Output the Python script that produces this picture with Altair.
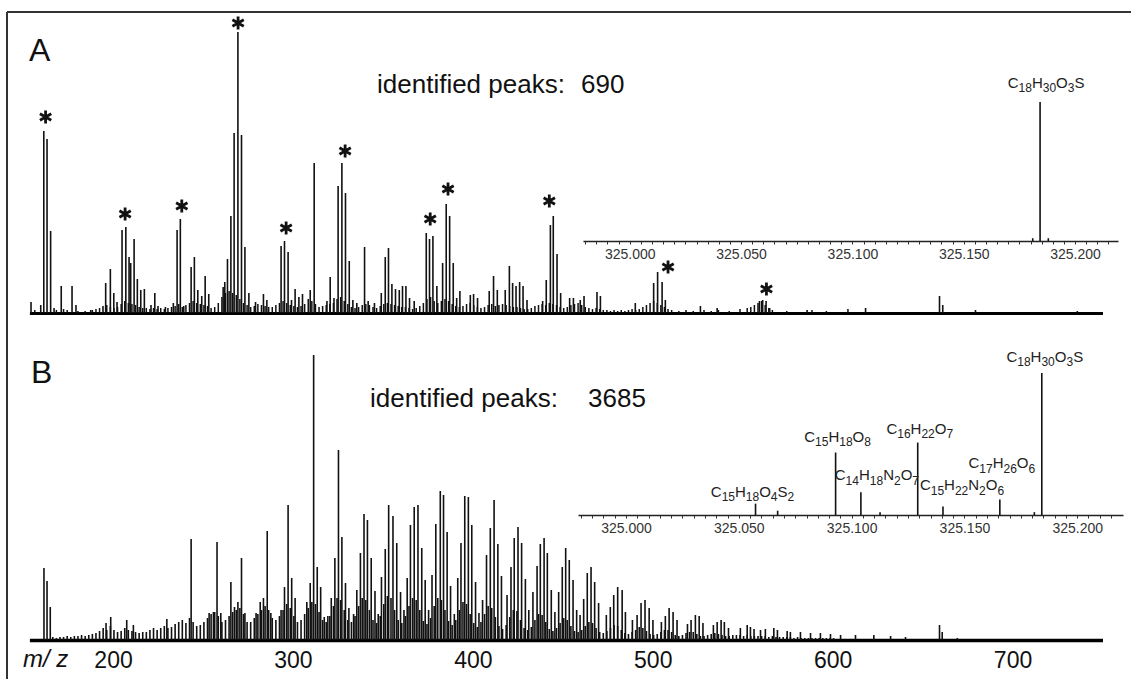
import re
import altair as alt
import pandas as pd

# ---------------- Panel A : main spectrum (m/z, relative intensity) ----------------
a_mz = [154.4, 159.8, 161.5, 163.3, 165.3, 167.2, 171.2, 177.2, 179.4, 187.6,
        194.4, 195.9, 198.5, 200.4, 202.2, 205.0, 207.1, 208.9, 209.8, 211.7,
        213.5, 215.4, 217.4, 221.1, 223.2, 225.0, 229.1, 233.5, 235.6, 237.4,
        239.3, 243.4, 245.2, 247.1, 249.3, 251.2, 253.2, 261.2, 262.1, 263.6,
        265.5, 267.3, 269.4, 271.4, 273.3, 275.5, 279.2, 283.6, 285.5, 293.4,
        295.3, 297.3, 299.2, 301.2, 303.3, 305.3, 309.6, 311.8, 318.9, 320.7,
        322.8, 325.1, 327.2, 329.2, 331.3, 333.3, 335.5, 339.8, 341.8, 345.3,
        349.1, 351.3, 353.1, 355.0, 357.0, 359.1, 360.9, 362.8, 364.8, 367.4,
        374.1, 375.9, 377.8, 380.0, 383.2, 385.2, 387.1, 389.1, 391.0, 392.8,
        398.6, 400.4, 402.6, 409.1, 411.5, 413.6, 418.0, 420.3, 422.1, 424.0,
        426.0, 427.9, 430.1, 438.8, 440.8, 443.1, 444.7, 446.8, 448.8, 453.8,
        455.9, 459.7, 461.8, 469.0, 470.9, 490.3, 500.5, 502.7, 505.2, 507.0,
        526.5, 535.8, 559.3, 561.1, 563.0, 565.0, 585.8, 618.3, 659.4, 661.2,
        679.4, 736.0]
a_int = [11, 8, 182, 174, 82, 5, 27, 27, 8, 3,
         7, 30, 44, 20, 11, 83, 86, 56, 50, 74,
         34, 23, 24, 8, 20, 7, 6, 10, 83, 94,
         7, 46, 56, 23, 17, 37, 19, 26, 31, 54,
         97, 180, 281, 178, 66, 20, 11, 19, 13, 67,
         72, 61, 13, 24, 16, 19, 23, 150, 12, 36,
         15, 127, 150, 120, 52, 13, 10, 66, 12, 10,
         20, 56, 65, 29, 24, 23, 27, 27, 15, 12,
         80, 74, 77, 27, 50, 109, 97, 50, 15, 22,
         18, 19, 15, 22, 37, 23, 23, 47, 30, 27,
         31, 27, 13, 12, 33, 88, 97, 59, 20, 15,
         15, 13, 17, 21, 17, 10, 30, 41, 31, 13,
         7, 5, 12, 13, 12, 5, 3, 5, 17, 8,
         3, 2]

a_minor_mz = [156.5, 168.5, 172.5, 174.5, 180.5, 184.5, 188.5, 190.5, 192.5, 196.5,
              198.5, 200.5, 202.5, 204.5, 206.5, 208.5, 210.5, 212.5, 214.5, 216.5,
              218.5, 220.5, 222.5, 224.5, 226.5, 228.5, 230.5, 232.5, 234.5, 236.5,
              238.5, 240.5, 242.5, 244.5, 246.5, 248.5, 250.5, 252.5, 254.5, 256.5,
              258.5, 260.5, 262.5, 264.5, 266.5, 268.5, 270.5, 272.5, 274.5, 276.5,
              278.5, 280.5, 282.5, 284.5, 286.5, 288.5, 290.5, 292.5, 294.5, 296.5,
              298.5, 300.5, 302.5, 304.5, 306.5, 308.5, 310.5, 312.5, 314.5, 316.5,
              318.5, 320.5, 322.5, 324.5, 326.5, 328.5, 330.5, 332.5, 334.5, 336.5,
              338.5, 340.5, 342.5, 344.5, 346.5, 348.5, 350.5, 352.5, 354.5, 356.5,
              358.5, 360.5, 362.5, 364.5, 366.5, 368.5, 370.5, 372.5, 374.5, 376.5,
              378.5, 380.5, 382.5, 384.5, 386.5, 388.5, 390.5, 392.5, 394.5, 396.5,
              398.5, 400.5, 402.5, 404.5, 406.5, 408.5, 410.5, 412.5, 414.5, 416.5,
              418.5, 420.5, 422.5, 424.5, 426.5, 428.5, 430.5, 432.5, 434.5, 436.5,
              438.5, 440.5, 442.5, 444.5, 446.5, 448.5, 450.5, 452.5, 454.5, 456.5,
              458.5, 460.5, 462.5, 464.5, 466.5, 468.5, 470.5, 472.5, 474.5, 476.5,
              478.5, 480.5, 482.5, 484.5, 486.5, 488.5, 490.5, 492.5, 494.5, 496.5,
              498.5, 500.5, 502.5, 504.5, 506.5, 508.5, 510.5, 514.5, 518.5, 522.5,
              528.5, 532.5, 536.5, 542.5, 548.5, 552.5, 554.5, 556.5, 558.5, 560.5,
              562.5, 564.5, 566.5, 574.5, 588.5, 596.5, 608.5]
a_minor_int = [3, 3, 4, 3, 2, 2, 3, 4, 5, 8,
               6, 5, 6, 9, 12, 10, 9, 8, 6, 5,
               5, 4, 5, 4, 5, 4, 5, 6, 7, 9,
               6, 8, 10, 12, 10, 9, 8, 7, 5, 6,
               10, 16, 20, 22, 20, 18, 14, 10, 8, 6,
               7, 9, 8, 7, 6, 6, 8, 10, 12, 10,
               8, 7, 6, 7, 9, 14, 12, 9, 6, 7,
               8, 9, 10, 14, 16, 12, 9, 6, 5, 6,
               8, 9, 8, 6, 5, 7, 9, 10, 9, 8,
               7, 6, 6, 5, 4, 5, 7, 10, 14, 16,
               12, 10, 12, 14, 12, 9, 7, 6, 7, 9,
               10, 8, 6, 5, 6, 8, 9, 7, 8, 9,
               8, 7, 6, 6, 5, 4, 4, 5, 7, 8,
               9, 8, 10, 9, 8, 6, 5, 6, 8, 9,
               10, 8, 6, 5, 4, 5, 4, 3, 3, 2,
               3, 2, 3, 2, 3, 4, 3, 4, 6, 8,
               10, 12, 10, 8, 6, 4, 3, 2, 3, 2,
               3, 2, 3, 2, 4, 5, 6, 8, 10, 12,
               8, 5, 3, 2, 3, 2, 4]

# asterisks marking series in panel A (position in m/z and intensity units)
star_mz = [162.5, 206.7, 238.2, 269.5, 296.2, 329.0, 376.3, 386.2, 442.5, 508.5, 563.2]
star_int = [196, 99, 107, 290, 85, 162, 94, 124, 112, 46, 24]

# ---------------- Panel B : main spectrum ----------------
b_mz = [161.6, 163.3, 165.1, 196.1, 198.7, 207.6, 211.3, 229.9, 243.4, 253.4,
        255.8, 257.8, 259.9, 265.5, 267.5, 269.4, 271.4, 273.3, 279.5, 281.8,
        283.6, 285.7, 287.7, 293.4, 295.3, 297.3, 299.3, 301.2, 307.7, 309.6,
        311.5, 313.5, 315.4, 317.4, 319.4, 321.3, 323.3, 325.3, 327.2, 329.2,
        331.1, 333.7, 335.5, 337.5, 339.5, 341.4, 343.5, 345.6, 347.4, 349.2,
        351.3, 353.2, 355.6, 357.7, 359.8, 361.7, 363.5, 365.3, 367.4, 369.5,
        371.6, 373.5, 375.4, 377.3, 379.4, 381.9, 383.7, 385.7, 387.6, 389.7,
        391.6, 393.4, 395.5, 397.5, 399.4, 401.5, 403.4, 405.4, 407.6, 409.7,
        411.8, 413.9, 415.9, 419.0, 421.2, 423.0, 425.1, 427.1, 429.2, 431.1,
        433.4, 435.7, 437.5, 439.6, 441.4, 443.6, 445.6, 447.7, 449.7, 451.6,
        453.6, 455.7, 457.7, 459.6, 461.6, 463.6, 465.7, 467.7, 469.9, 474.2,
        476.4, 478.3, 480.5, 483.0, 484.8, 488.7, 491.3, 493.5, 495.7, 498.0,
        500.1, 504.8, 507.0, 509.1, 511.3, 513.5, 519.3, 521.3, 523.7, 525.8,
        527.9, 533.7, 535.8, 538.0, 539.8, 542.1, 548.7, 552.5, 554.3, 556.3,
        559.9, 562.6, 567.3, 569.3, 574.7, 576.5, 582.1, 587.7, 593.2, 598.8,
        604.4, 612.7, 622.9, 632.2, 640.5, 659.4, 660.9, 669.3]
b_int = [72, 59, 33, 17, 23, 20, 15, 21, 101, 27,
         28, 98, 27, 58, 33, 38, 82, 27, 27, 38,
         42, 109, 27, 30, 53, 135, 62, 42, 38, 57,
         285, 73, 53, 23, 24, 42, 82, 190, 103, 57,
         32, 26, 50, 87, 126, 120, 82, 49, 26, 63,
         91, 135, 124, 97, 48, 30, 62, 115, 133, 135,
         92, 60, 30, 65, 116, 149, 145, 108, 54, 26,
         62, 97, 144, 143, 115, 58, 27, 40, 85, 112,
         140, 96, 64, 45, 73, 102, 113, 97, 61, 30,
         48, 74, 96, 102, 87, 50, 28, 48, 73, 92,
         80, 60, 30, 25, 41, 67, 73, 58, 37, 25,
         33, 45, 53, 50, 28, 20, 25, 37, 40, 32,
         20, 18, 24, 32, 28, 20, 16, 20, 25, 24,
         17, 15, 18, 20, 18, 12, 12, 15, 13, 11,
         10, 11, 12, 10, 9, 8, 8, 7, 7, 6,
         5, 5, 5, 4, 3, 15, 8, 2]

b_minor_mz = [166.5, 168.5, 170.5, 172.5, 174.5, 176.5, 178.5, 180.5, 182.5, 184.5,
              186.5, 188.5, 190.5, 192.5, 194.5, 196.5, 198.5, 200.5, 202.5, 204.5,
              206.5, 208.5, 210.5, 212.5, 214.5, 216.5, 218.5, 220.5, 222.5, 224.5,
              226.5, 228.5, 230.5, 232.5, 234.5, 236.5, 238.5, 240.5, 242.5, 244.5,
              246.5, 248.5, 250.5, 252.5, 254.5, 256.5, 258.5, 260.5, 262.5, 264.5,
              266.5, 268.5, 270.5, 272.5, 274.5, 276.5, 278.5, 280.5, 282.5, 284.5,
              286.5, 288.5, 290.5, 292.5, 294.5, 296.5, 298.5, 300.5, 302.5, 304.5,
              306.5, 308.5, 310.5, 312.5, 314.5, 316.5, 318.5, 320.5, 322.5, 324.5,
              326.5, 328.5, 330.5, 332.5, 334.5, 336.5, 338.5, 340.5, 342.5, 344.5,
              346.5, 348.5, 350.5, 352.5, 354.5, 356.5, 358.5, 360.5, 362.5, 364.5,
              366.5, 368.5, 370.5, 372.5, 374.5, 376.5, 378.5, 380.5, 382.5, 384.5,
              386.5, 388.5, 390.5, 392.5, 394.5, 396.5, 398.5, 400.5, 402.5, 404.5,
              406.5, 408.5, 410.5, 412.5, 414.5, 416.5, 418.5, 420.5, 422.5, 424.5,
              426.5, 428.5, 430.5, 432.5, 434.5, 436.5, 438.5, 440.5, 442.5, 444.5,
              446.5, 448.5, 450.5, 452.5, 454.5, 456.5, 458.5, 460.5, 462.5, 464.5,
              466.5, 468.5, 470.5, 472.5, 474.5, 476.5, 478.5, 480.5, 482.5, 484.5,
              486.5, 488.5, 490.5, 492.5, 494.5, 496.5, 498.5, 500.5, 502.5, 504.5,
              506.5, 508.5, 510.5, 512.5, 514.5, 516.5, 518.5, 520.5, 522.5, 524.5,
              526.5, 528.5, 530.5, 532.5, 534.5, 536.5, 538.5, 540.5, 542.5, 544.5,
              546.5, 548.5, 550.5, 552.5, 554.5, 556.5, 558.5, 560.5, 562.5, 564.5,
              566.5, 568.5, 570.5, 572.5, 574.5, 576.5, 578.5, 580.5, 582.5, 584.5,
              586.5, 588.5, 590.5, 592.5, 594.5, 596.5, 598.5, 600.5]
b_minor_int = [3, 2, 3, 3, 4, 3, 4, 4, 5, 4,
               5, 6, 7, 9, 12, 10, 14, 10, 8, 9,
               12, 10, 9, 8, 7, 8, 8, 10, 12, 10,
               12, 14, 12, 13, 16, 18, 20, 17, 22, 18,
               14, 15, 18, 22, 26, 28, 24, 18, 20, 24,
               28, 30, 32, 26, 18, 18, 22, 26, 30, 34,
               30, 22, 20, 24, 30, 36, 32, 24, 18, 20,
               26, 32, 38, 36, 28, 20, 18, 24, 34, 42,
               40, 30, 20, 18, 24, 34, 42, 40, 30, 20,
               17, 24, 36, 44, 42, 30, 20, 17, 24, 34,
               42, 40, 30, 19, 16, 22, 34, 42, 40, 30,
               19, 15, 20, 30, 38, 36, 26, 17, 13, 18,
               26, 34, 32, 23, 14, 11, 15, 23, 30, 29,
               20, 12, 10, 13, 20, 26, 25, 18, 11, 9,
               12, 17, 22, 20, 14, 9, 8, 10, 14, 18,
               17, 12, 8, 7, 9, 12, 15, 14, 10, 7,
               6, 8, 10, 13, 12, 9, 6, 5, 6, 8,
               10, 10, 8, 5, 4, 5, 7, 8, 8, 6,
               4, 4, 5, 6, 7, 6, 5, 4, 4, 5,
               5, 5, 4, 5, 4, 4, 4, 4, 4, 3,
               4, 3, 3, 3, 3, 3, 2, 3, 2, 2,
               2, 2, 2, 2, 2, 2, 2, 2]

# ---------------- Insets (zoom around m/z 325) ----------------
inset_a_mz = [325.1810, 325.1843, 325.1880]
inset_a_int = [2, 100, 2]
inset_b_mz = [325.0574, 325.0672, 325.0929, 325.1041, 325.1126,
              325.1293, 325.1405, 325.1657, 325.1810, 325.1843]
inset_b_int = [8, 3, 44, 16, 2, 51, 6, 11, 2, 100]

inset_b_formula = ["C15H18O4S2", "C15H18O8", "C14H18N2O7", "C16H22O7",
                   "C15H22N2O6", "C17H26O6", "C18H30O3S"]
inset_b_formula_mz = [325.0574, 325.0929, 325.1041, 325.1293, 325.1405, 325.1657, 325.1843]
inset_b_formula_int = [8, 44, 16, 51, 6, 11, 100]
inset_a_formula = ["C18H30O3S"]
inset_a_formula_mz = [325.1843]
inset_a_formula_int = [100]

main_ticks = [200, 300, 400, 500, 600, 700]
inset_ticks = [round(324.98 + 0.005 * i, 3) for i in range(48)]

peaks_a_text = "690"
peaks_b_text = "3685"

# ---------------- layout / style ----------------
W, H = 1124, 667
FONT = "Liberation Sans"
INK = "#111111"

XM = dict(domain=[153.5, 750], range=[22.4, 1095.5], nice=False, zero=False)
YA = dict(domain=[0, 281], range=[301, 20], nice=False)
YB = dict(domain=[0, 285], range=[628, 343], nice=False)
XIA = dict(domain=[324.979, 325.2193], range=[576, 1111], nice=False, zero=False)
YIA = dict(domain=[0, 100], range=[229, 90], nice=False)
XIB = dict(domain=[324.9787, 325.2203], range=[571, 1116], nice=False, zero=False)
YIB = dict(domain=[0, 100], range=[503, 361], nice=False)

LETTER_FS = 15
DIGIT_FS = 12
GLYPH_W = {"C": 0.722, "H": 0.722, "O": 0.778, "S": 0.667, "N": 0.722}


def sticks(mz, inten, xs, ys, width, xaxis=None):
    df = pd.DataFrame({"mz": mz, "inten": inten})
    return alt.Chart(df).mark_rule(color=INK, strokeWidth=width).encode(
        x=alt.X("mz:Q", scale=alt.Scale(**xs), axis=xaxis),
        y=alt.Y("inten:Q", scale=alt.Scale(**ys), axis=None),
        y2=alt.datum(0),
    )


def text_at(txt, x, y, size, align="left", baseline="alphabetic", style="normal"):
    df = pd.DataFrame({"t": [txt]})
    return alt.Chart(df).mark_text(
        font=FONT, fontSize=size, align=align, baseline=baseline,
        fontStyle=style, color=INK,
    ).encode(x=alt.value(x), y=alt.value(y), text="t:N")


def formula_layers(txt, mz, inten, xs, ys, dx, dy):
    """Chemical formula with real subscripts: one text piece per run."""
    parts = re.findall(r"[A-Z][a-z]?|\d+", txt)
    widths = []
    for p in parts:
        if p.isdigit():
            widths.append(0.556 * DIGIT_FS * len(p))
        else:
            widths.append(GLYPH_W.get(p, 0.7) * LETTER_FS)
    total = sum(widths)
    x0 = dx - total / 2.0
    out = []
    df = pd.DataFrame({"mz": [mz], "inten": [inten]})
    for p, w in zip(parts, widths):
        sub = p.isdigit()
        out.append(alt.Chart(df).mark_text(
            font=FONT, fontSize=DIGIT_FS if sub else LETTER_FS, align="left",
            baseline="alphabetic", color="#222222", text=p,
            dx=x0, dy=dy + (4.3 if sub else 0),
        ).encode(
            x=alt.X("mz:Q", scale=alt.Scale(**xs), axis=None),
            y=alt.Y("inten:Q", scale=alt.Scale(**ys), axis=None),
        ))
        x0 += w
    return out


inset_label_expr = ("abs(datum.value*20 - round(datum.value*20)) < 0.01 ? "
                    "format(datum.value, '.3f') : ''")


def inset_axis(offset):
    return alt.Axis(orient="bottom", offset=offset, values=inset_ticks,
                    labelExpr=inset_label_expr, labelFont=FONT, labelFontSize=14,
                    labelColor="#333333", labelPadding=3, tickSize=3,
                    tickColor="#333333", domainColor="#222222", domainWidth=1.5,
                    labelOverlap=False, labelFlush=False, grid=False, title=None)


axis_a = alt.Axis(orient="bottom", offset=301 - H, labels=False, ticks=False,
                  domainWidth=3, domainColor="black", grid=False, title=None)
axis_b = alt.Axis(orient="bottom", offset=628 - H, values=main_ticks, format="d",
                  ticks=False, domainWidth=3.5, domainColor="black",
                  labelFont=FONT, labelFontSize=23, labelColor=INK,
                  labelPadding=9, labelOverlap=False, labelFlush=False,
                  grid=False, title=None)

layers = []

# frame (top and left edges)
layers.append(alt.Chart(pd.DataFrame({"k": [0]})).mark_rule(color="#333333", strokeWidth=2).encode(
    x=alt.value(0), x2=alt.value(W), y=alt.value(0)))
layers.append(alt.Chart(pd.DataFrame({"k": [0]})).mark_rule(color="#333333", strokeWidth=2).encode(
    x=alt.value(0), y=alt.value(0), y2=alt.value(H)))

# panel A
layers.append(sticks(a_minor_mz, a_minor_int, XM, YA, 1.5))
layers.append(sticks(a_mz, a_int, XM, YA, 1.6, axis_a))
star_df = pd.DataFrame({"mz": star_mz, "inten": star_int})
layers.append(alt.Chart(star_df).mark_point(
    shape="M0,-1L0,1M-0.87,-0.5L0.87,0.5M-0.87,0.5L0.87,-0.5",
    size=170, filled=False, stroke=INK, strokeWidth=2.8, opacity=1,
).encode(
    x=alt.X("mz:Q", scale=alt.Scale(**XM), axis=None),
    y=alt.Y("inten:Q", scale=alt.Scale(**YA), axis=None),
))

# panel B
layers.append(sticks(b_minor_mz, b_minor_int, XM, YB, 1.6))
layers.append(sticks(b_mz, b_int, XM, YB, 1.6, axis_b))

# insets
layers.append(sticks(inset_a_mz, inset_a_int, XIA, YIA, 1.6, inset_axis(229 - H)))
layers.append(sticks(inset_b_mz, inset_b_int, XIB, YIB, 1.6, inset_axis(503 - H)))

a_offsets = [(6, -14)]
for t, m, i, (dx, dy) in zip(inset_a_formula, inset_a_formula_mz, inset_a_formula_int, a_offsets):
    layers.extend(formula_layers(t, m, i, XIA, YIA, dx, dy))

b_offsets = [(-3, -7), (2, -11), (16, -12), (2, -9), (19, -16), (2, -31), (3, -11.5)]
for t, m, i, (dx, dy) in zip(inset_b_formula, inset_b_formula_mz, inset_b_formula_int, b_offsets):
    layers.extend(formula_layers(t, m, i, XIB, YIB, dx, dy))

# texts
layers.append(text_at("A", 22, 49, 32))
layers.append(text_at("B", 24, 371, 32))
layers.append(text_at("identified peaks:", 370, 81, 26))
layers.append(text_at(peaks_a_text, 574, 81, 26))
layers.append(text_at("identified peaks:", 363, 395, 26))
layers.append(text_at(peaks_b_text, 581, 395, 26))
layers.append(text_at("m/ z", 16, 655, 24, style="italic"))

chart = alt.layer(*layers).resolve_scale(
    x="independent", y="independent"
).properties(
    width=W, height=H,
    autosize=alt.AutoSizeParams(type="none"),
    padding={"left": 7, "top": 12, "right": 0, "bottom": 0},
    background="white",
).configure_view(stroke=None)

chart.save("out.html", embed_options={"renderer": "svg", "actions": False})
